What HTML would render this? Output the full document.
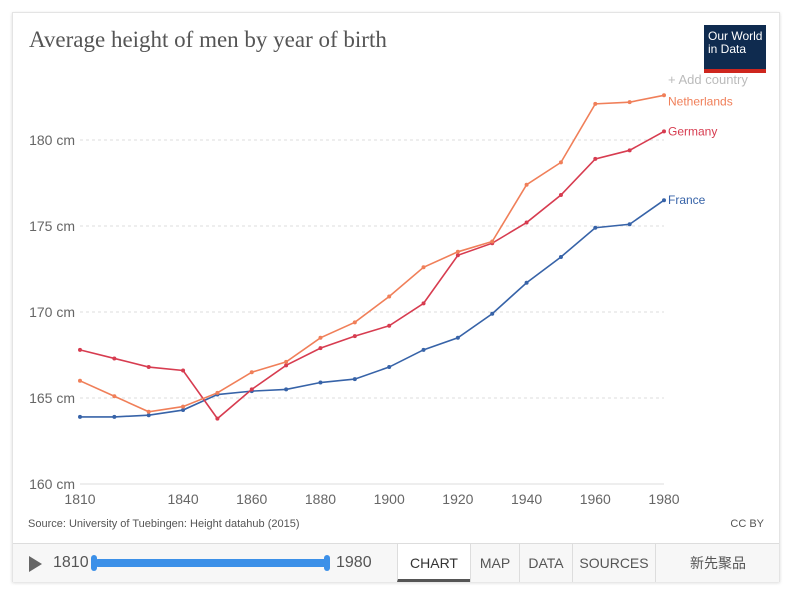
<!DOCTYPE html>
<html><head><meta charset="utf-8"><style>
body{margin:0;width:788px;height:596px;background:#fff;font-family:"Liberation Sans",sans-serif;overflow:hidden;position:relative}
.card{position:absolute;left:12px;top:12px;width:766px;height:568px;border:1px solid #e4e4e4;box-shadow:0 1px 3px rgba(0,0,0,.15);background:#fff}
.title{position:absolute;left:16px;top:14px;font-family:"Liberation Serif",serif;font-size:23px;color:#555}
.logo{position:absolute;left:691px;top:12px;width:62px;height:48px;background:#0f2b4f;color:#fff;font-size:12px;line-height:13px;padding:5px 0 0 4px;box-sizing:border-box;border-bottom:4px solid #ce261e}
.bar{position:absolute;left:0;top:530px;width:766px;height:38px;border-top:1px solid #ddd;background:#f7f7f7}
.tab{position:absolute;top:0;height:38px;line-height:38px;font-size:14px;color:#555;border-left:1px solid #ddd;text-align:center}
</style></head><body>
<div class="card">
<div class="title">Average height of men by year of birth</div>
<div class="logo">Our World<br>in Data</div>
<div class="bar">
<div style="position:absolute;left:16px;top:12px;width:0;height:0;border-left:13px solid #666;border-top:8px solid transparent;border-bottom:8px solid transparent"></div>
<div style="position:absolute;left:40px;top:10px;font-size:16px;color:#555">1810</div>
<div style="position:absolute;left:81px;top:15px;width:234px;height:8px;background:#3c90e8;border-radius:4px"></div>
<div style="position:absolute;left:78px;top:11px;width:6px;height:16px;background:#3c90e8;border-radius:3px"></div>
<div style="position:absolute;left:311px;top:11px;width:6px;height:16px;background:#3c90e8;border-radius:3px"></div>
<div style="position:absolute;left:323px;top:10px;font-size:16px;color:#555">1980</div>
<div class="tab" style="left:384px;width:72px;background:#fff;color:#333;border-bottom:3px solid #555;height:35px">CHART</div>
<div class="tab" style="left:457px;width:48px">MAP</div>
<div class="tab" style="left:506px;width:52px">DATA</div>
<div class="tab" style="left:559px;width:82px">SOURCES</div>
<div class="tab" style="left:642px;width:124px">新先聚品</div>
</div>
</div>
<svg id="chart" width="788" height="596" style="position:absolute;left:0;top:0"></svg>
<script>
const years=[1810,1820,1830,1840,1850,1860,1870,1880,1890,1900,1910,1920,1930,1940,1950,1960,1970,1980];
const france=[163.9,163.9,164.0,164.3,165.2,165.4,165.5,165.9,166.1,166.8,167.8,168.5,169.9,171.7,173.2,174.9,175.1,176.5];
const germany=[167.8,167.3,166.8,166.6,163.8,165.5,166.9,167.9,168.6,169.2,170.5,173.3,174.0,175.2,176.8,178.9,179.4,180.5];
const netherlands=[166.0,165.1,164.2,164.5,165.3,166.5,167.1,168.5,169.4,170.9,172.6,173.5,174.1,177.4,178.7,182.1,182.2,182.6];
const yTicks=[160,165,170,175,180];
const xTicks=[1810,1840,1860,1880,1900,1920,1940,1960,1980];
const NS="http://www.w3.org/2000/svg",svg=document.getElementById('chart');
const x=v=>80+(v-1810)*(584/170), y=v=>484-(v-160)*17.2;
function mk(t,a,txt){const e=document.createElementNS(NS,t);for(const k in a)e.setAttribute(k,a[k]);if(txt!=null)e.textContent=txt;svg.appendChild(e);return e;}
yTicks.forEach(t=>{
const l=mk('line',{x1:80,x2:664,y1:y(t),y2:y(t),stroke:'#ddd','stroke-dasharray':t===160?'':'3,3'});


const tx=mk('text',{x:75,y:y(t)+5,'text-anchor':'end','font-size':14,fill:'#666','font-family':'Liberation Sans'},t+' cm');


});
xTicks.forEach(t=>{
const tx=mk('text',{x:x(t),y:504,'text-anchor':'middle','font-size':14,fill:'#666','font-family':'Liberation Sans'},t);


});
const series=[['France',france,'#3763a8'],['Germany',germany,'#d73c50'],['Netherlands',netherlands,'#f07f59']];
series.forEach(([n,d,c])=>{
const p=mk('polyline',{points:d.map((v,i)=>x(years[i])+','+y(v)).join(' '),fill:'none',stroke:c,'stroke-width':1.6});


d.forEach((v,i)=>{const ci=mk('circle',{cx:x(years[i]),cy:y(v),r:2,fill:c});

});
const lb=mk('text',{x:668,y:y(d[d.length-1])+(n==='Netherlands'?10:4),'font-size':12,fill:c,'font-family':'Liberation Sans'},n);


});
const ac=mk('text',{x:668,y:84,'font-size':13,fill:'#bbb','font-family':'Liberation Sans'},'+ Add country');


const src=mk('text',{x:28,y:527,'font-size':11,fill:'#555','font-family':'Liberation Sans'},'Source: University of Tuebingen: Height datahub (2015)');


const cc=mk('text',{x:764,y:527,'text-anchor':'end','font-size':11,fill:'#555','font-family':'Liberation Sans'},'CC BY');


</script>
</body></html>
